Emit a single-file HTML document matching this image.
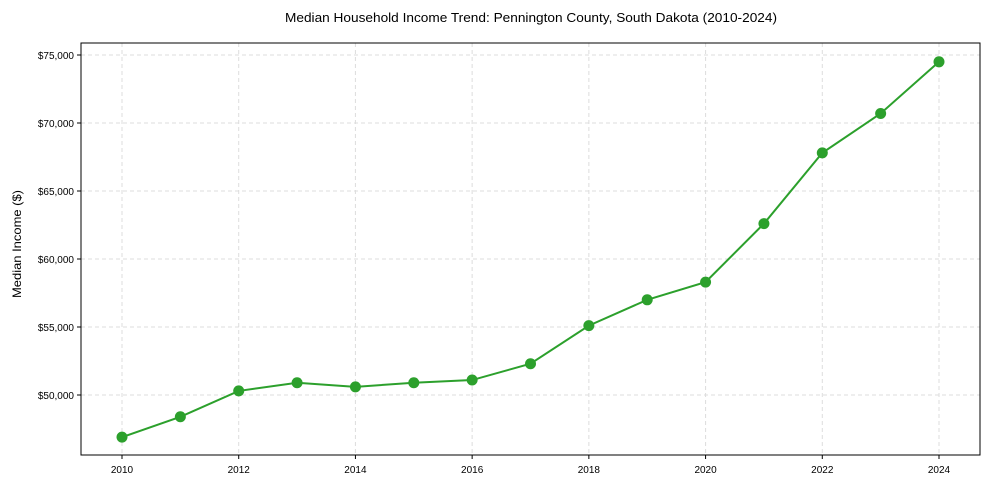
<!DOCTYPE html>
<html><head><meta charset="utf-8"><style>
body{margin:0;background:#fff;font-family:"Liberation Sans",Arial,sans-serif;}
svg text{font-family:"Liberation Sans",Arial,sans-serif;fill:#000;}
</style></head><body>
<svg id="chart" width="989" height="490">
<text x="285" y="22" font-size="13" textLength="492" lengthAdjust="spacingAndGlyphs">Median Household Income Trend: Pennington County, South Dakota (2010-2024)</text>
<text transform="translate(21,244) rotate(-90)" text-anchor="middle" font-size="12" textLength="108" lengthAdjust="spacingAndGlyphs">Median Income ($)</text>
<g id="grid"></g><g id="axes"></g><g id="series"></g>
<rect x="81" y="43" width="899" height="412" fill="none" stroke="#000" stroke-width="1"/>
</svg>
<script>
const years=[2010,2011,2012,2013,2014,2015,2016,2017,2018,2019,2020,2021,2022,2023,2024];
const incomes=[46900,48400,50300,50900,50600,50900,51100,52300,55100,57000,58300,62600,67800,70700,74500];
const xTicks=[2010,2012,2014,2016,2018,2020,2022,2024];
const yTicks=[50000,55000,60000,65000,70000,75000];
const NS="http://www.w3.org/2000/svg";
const xs=y=>122+(y-2010)*(939-122)/14;
const ys=v=>395-(v-50000)*68/5000;
function mk(t,a,p){const e=document.createElementNS(NS,t);for(const k in a)e.setAttribute(k,a[k]);p.appendChild(e);return e;}
const grid=document.getElementById('grid'),axes=document.getElementById('axes'),ser=document.getElementById('series');
xTicks.forEach(t=>{const x=xs(t);
const g=mk('line',{x1:x,x2:x,y1:43,y2:455,stroke:'#ddd','stroke-dasharray':'4,3'},grid);


mk('line',{x1:x,x2:x,y1:455,y2:459,stroke:'#000'},axes);
const l=mk('text',{x:x,y:473,'text-anchor':'middle','font-size':'10'},axes);l.textContent=t;

});
yTicks.forEach(t=>{const y=ys(t);
const g=mk('line',{x1:81,x2:980,y1:y,y2:y,stroke:'#ddd','stroke-dasharray':'4,3'},grid);


mk('line',{x1:77,x2:81,y1:y,y2:y,stroke:'#000'},axes);
const l=mk('text',{x:74,y:y+4,'text-anchor':'end','font-size':'10'},axes);l.textContent='$'+t.toLocaleString('en-US');

});
const pl=mk('polyline',{points:years.map((y,i)=>xs(y)+','+ys(incomes[i])).join(' '),fill:'none',stroke:'#2ca02c','stroke-width':2},ser);


years.forEach((y,i)=>{const c=mk('circle',{cx:xs(y),cy:ys(incomes[i]),r:5.5,fill:'#2ca02c'},ser);

});
</script>
</body></html>
